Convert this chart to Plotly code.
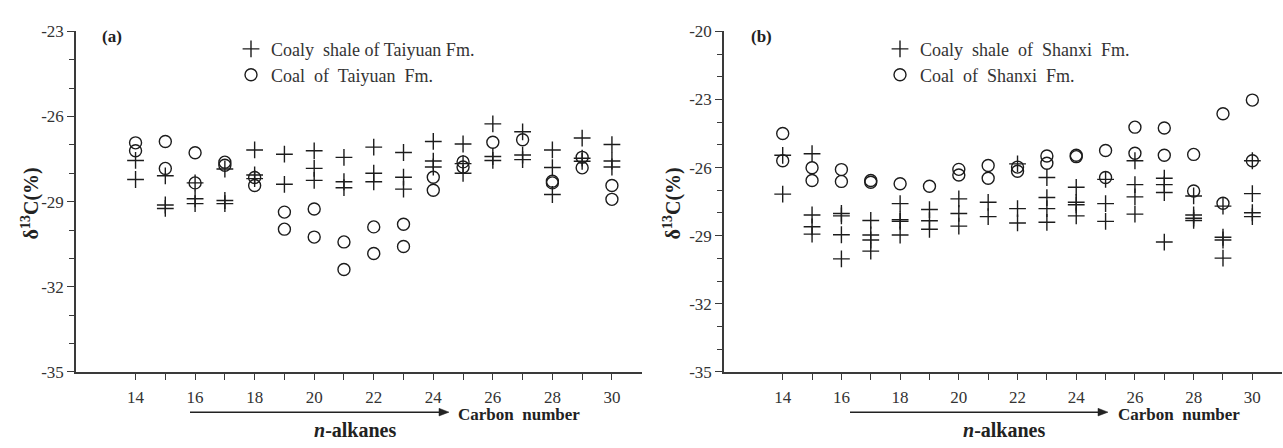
import plotly.graph_objects as go

# ---------------- data ----------------
# Panel (a): Taiyuan Fm.
a_shale_x = [14, 14,
             15, 15, 15,
             16, 16, 16,
             17, 17, 17,
             18, 18, 18,
             19, 19,
             20, 20, 20,
             21, 21, 21,
             22, 22, 22,
             23, 23, 23,
             24, 24, 24,
             25, 25, 25,
             26, 26, 26,
             27, 27, 27,
             28, 28, 28,
             29, 29, 29,
             30, 30, 30]
a_shale_y = [-27.55, -28.22,
             -28.09, -29.12, -29.24,
             -28.34, -28.90, -29.07,
             -27.85, -28.96, -29.07,
             -27.18, -28.06, -28.19,
             -27.33, -28.39,
             -27.21, -27.83, -28.25,
             -27.44, -28.30, -28.51,
             -27.08, -28.00, -28.30,
             -27.27, -28.14, -28.56,
             -26.88, -27.57, -27.78,
             -26.97, -27.66, -28.00,
             -26.26, -27.41, -27.55,
             -26.54, -27.36, -27.52,
             -27.18, -27.80, -28.75,
             -26.76, -27.47, -27.58,
             -26.99, -27.57, -27.78]

a_coal_x = [14, 14, 15, 15, 16, 16, 17, 17, 18, 18, 19, 19, 20, 20, 21, 21,
            22, 22, 23, 23, 24, 24, 25, 25, 26, 27, 28, 28, 29, 29, 30, 30]
a_coal_y = [-26.93, -27.21, -26.88, -27.83, -27.28, -28.34, -27.61, -27.72,
            -28.15, -28.43, -29.37, -29.97, -29.26, -30.25, -30.42, -31.39,
            -29.89, -30.83, -29.80, -30.58, -28.14, -28.60, -27.60, -27.78,
            -26.91, -26.82, -28.28, -28.34, -27.44, -27.81, -28.43, -28.92]

# Panel (b): Shanxi Fm.
b_shale_x = [14, 14,
             15, 15, 15, 15,
             16, 16, 16, 16,
             17, 17, 17, 17,
             18, 18, 18, 18,
             19, 19, 19,
             20, 20, 20,
             21, 21,
             22, 22, 22,
             23, 23, 23, 23,
             24, 24, 24, 24,
             25, 25, 25,
             26, 26, 26, 26,
             27, 27, 27, 27,
             28, 28, 28, 28,
             29, 29, 29, 29,
             30, 30, 30, 30]
b_shale_y = [-25.46, -27.17,
             -25.39, -28.09, -28.61, -28.93,
             -28.02, -28.13, -28.96, -30.02,
             -28.33, -28.97, -29.19, -29.68,
             -27.59, -28.30, -28.37, -28.97,
             -27.85, -28.34, -28.72,
             -27.38, -28.02, -28.58,
             -27.53, -28.16,
             -25.84, -27.81, -28.44,
             -26.44, -27.32, -27.81, -28.41,
             -26.87, -27.53, -27.64, -28.13,
             -26.52, -27.59, -28.37,
             -25.70, -26.75, -27.29, -28.05,
             -26.47, -26.75, -27.10, -29.28,
             -27.25, -28.09, -28.23, -28.33,
             -27.70, -29.07, -29.19, -29.99,
             -25.70, -27.15, -27.99, -28.16]

b_coal_x = [14, 14, 15, 15, 16, 16, 17, 17, 18, 19, 20, 20, 21, 21, 22, 22,
            23, 23, 24, 24, 25, 25, 26, 26, 27, 27, 28, 28, 29, 29, 30, 30]
b_coal_y = [-24.50, -25.70, -26.01, -26.57, -26.09, -26.61, -26.57, -26.65,
            -26.71, -26.82, -26.08, -26.33, -25.91, -26.47, -25.98, -26.16,
            -25.49, -25.81, -25.46, -25.52, -25.25, -26.44, -24.22, -25.37,
            -24.26, -25.46, -25.42, -27.03, -23.63, -27.57, -23.03, -25.70]

x_major = [14, 16, 18, 20, 22, 24, 26, 28, 30]
x_minor = [15, 17, 19, 21, 23, 25, 27, 29]
a_y_major = [-35, -32, -29, -26, -23]
b_y_major = [-35, -32, -29, -26, -23, -20]

legend_names = ["Coaly  shale of Taiyuan Fm.", "Coal  of  Taiyuan  Fm.",
                "Coaly  shale  of  Shanxi  Fm.", "Coal  of  Shanxi  Fm."]

# ---------------- styling ----------------
FONT = "Liberation Serif"
INK = "#1c1c1c"
AX = "#3a3a3a"
W, H = 1283, 448


def px_x(p):
    return p / W


def px_y(p):
    return 1 - p / H


plus_marker = dict(symbol="cross-thin-open", size=12, line=dict(color=INK, width=1.4), color=INK)
circ_marker = dict(symbol="circle-open", size=12, line=dict(color=INK, width=1.4), color=INK)

fig = go.Figure()
fig.add_trace(go.Scatter(x=a_shale_x, y=a_shale_y, mode="markers", marker=plus_marker,
                         name=legend_names[0], xaxis="x", yaxis="y", legend="legend"))
fig.add_trace(go.Scatter(x=a_coal_x, y=a_coal_y, mode="markers", marker=circ_marker,
                         name=legend_names[1], xaxis="x", yaxis="y", legend="legend2"))
fig.add_trace(go.Scatter(x=b_shale_x, y=b_shale_y, mode="markers", marker=plus_marker,
                         name=legend_names[2], xaxis="x2", yaxis="y2", legend="legend3"))
fig.add_trace(go.Scatter(x=b_coal_x, y=b_coal_y, mode="markers", marker=circ_marker,
                         name=legend_names[3], xaxis="x2", yaxis="y2", legend="legend4"))


def xaxis(domain, anchor):
    return dict(domain=domain, range=[12, 31], anchor=anchor,
                showline=True, linecolor=AX, linewidth=1.6,
                ticks="outside", ticklen=6, tickwidth=1.3, tickcolor=AX,
                tickvals=x_major, ticktext=[str(v) for v in x_major],
                ticklabelstandoff=3,
                minor=dict(tickvals=x_minor, ticks="outside", ticklen=6, tickwidth=1.3,
                           tickcolor=AX, showgrid=False),
                showgrid=False, zeroline=False,
                tickfont=dict(family=FONT, size=17, color="#333"))


def yaxis(domain, anchor, rng, major):
    minor = [v for v in range(rng[0], rng[1] + 1) if v not in major]
    return dict(domain=domain, range=rng, anchor=anchor,
                showline=True, linecolor=AX, linewidth=1.6,
                ticks="outside", ticklen=7, tickwidth=1.3, tickcolor=AX,
                tickvals=major, ticktext=["-%d" % abs(v) for v in major],
                minor=dict(tickvals=minor, ticks="outside", ticklen=5, tickwidth=1.2,
                           tickcolor=AX, showgrid=False),
                showgrid=False, zeroline=False,
                tickfont=dict(family=FONT, size=17, color="#333"))


ydom = [px_y(379), px_y(23.3)]
xdom_a = [px_x(76), px_x(641.7)]
xdom_b = [px_x(724), px_x(1281.7)]


def leg(xp, yp):
    return dict(x=px_x(xp), y=px_y(yp), xanchor="left", yanchor="middle",
                bgcolor="rgba(0,0,0,0)", borderwidth=0,
                font=dict(family=FONT, size=18, color="#333"))


lx_off = 18  # marker centre sits ~20 px right of the legend's left edge
fig.update_layout(
    width=W, height=H,
    margin=dict(l=0, r=0, t=0, b=0),
    paper_bgcolor="white", plot_bgcolor="white",
    showlegend=True,
    xaxis=xaxis(xdom_a, "y"),
    yaxis=yaxis(ydom, "x", [-35, -23], a_y_major),
    xaxis2=xaxis(xdom_b, "y2"),
    yaxis2=yaxis(ydom, "x2", [-35, -20], b_y_major),
    legend=leg(249 - lx_off, 42),
    legend2=leg(249 - lx_off, 69),
    legend3=leg(898 - lx_off, 42),
    legend4=leg(898 - lx_off, 69),
)

annotations = [
    # panel labels
    dict(text="<b>(a)</b>", x=px_x(100), y=px_y(29), xanchor="left", yanchor="middle",
         font=dict(family=FONT, size=17, color="#222")),
    dict(text="<b>(b)</b>", x=px_x(749), y=px_y(29), xanchor="left", yanchor="middle",
         font=dict(family=FONT, size=17, color="#222")),
    # y titles
    dict(text="<b>δ<sup>13</sup>C(%)</b>", x=px_x(30), y=px_y(203), textangle=-90,
         xanchor="center", yanchor="middle", font=dict(family=FONT, size=20, color="#222")),
    dict(text="<b>δ<sup>13</sup>C(%)</b>", x=px_x(672), y=px_y(203), textangle=-90,
         xanchor="center", yanchor="middle", font=dict(family=FONT, size=20, color="#222")),
    # x captions
    dict(text="<b>Carbon  number</b>", x=px_x(456), y=px_y(423), xanchor="left", yanchor="middle",
         font=dict(family=FONT, size=17, color="#222")),
    dict(text="<b>Carbon  number</b>", x=px_x(1116), y=px_y(423), xanchor="left", yanchor="middle",
         font=dict(family=FONT, size=17, color="#222")),
    dict(text="<b><i>n</i>-alkanes</b>", x=px_x(355), y=px_y(440), xanchor="center", yanchor="middle",
         font=dict(family=FONT, size=20, color="#222")),
    dict(text="<b><i>n</i>-alkanes</b>", x=px_x(1004), y=px_y(440), xanchor="center", yanchor="middle",
         font=dict(family=FONT, size=20, color="#222")),
]
for a in annotations:
    a.setdefault("xref", "paper")
    a.setdefault("yref", "paper")
    a.setdefault("showarrow", False)


# arrows drawn as shapes (line + filled head)
def arrow(x0, x1, yp):
    head = 10
    return [
        dict(type="line", xref="paper", yref="paper", x0=px_x(x0), x1=px_x(x1 - head + 1),
             y0=px_y(yp), y1=px_y(yp), line=dict(color="#222", width=1.5)),
        dict(type="path", xref="paper", yref="paper",
             path="M %f %f L %f %f L %f %f Z" % (px_x(x1), px_y(yp),
                                                 px_x(x1 - head), px_y(yp - 4),
                                                 px_x(x1 - head), px_y(yp + 4)),
             fillcolor="#222", line=dict(color="#222", width=0.5)),
    ]


shapes = arrow(190, 449, 421) + arrow(850, 1108, 421)
fig.update_layout(annotations=annotations, shapes=shapes)

fig.write_html("out.html")
